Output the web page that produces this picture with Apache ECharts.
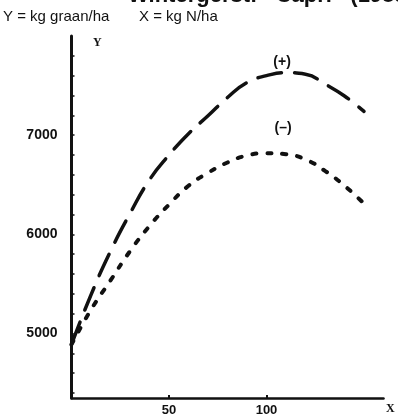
<!DOCTYPE html>
<html>
<head>
<meta charset="utf-8">
<script src="https://cdn.jsdelivr.net/npm/echarts@6/dist/echarts.min.js"></script>
<style>
html,body{margin:0;padding:0;background:#fff;}
#chart{width:398px;height:419px;}
</style>
</head>
<body>
<div id="chart"></div>
<script>
// Data
const xValues = [0, 10, 20, 30, 40, 50, 60, 70, 80, 90, 100, 110, 120, 130, 140, 150];
const yPlus   = [4890, 5390, 5830, 6210, 6550, 6800, 7015, 7195, 7380, 7530, 7600, 7630, 7615, 7515, 7395, 7240];
const yMinus  = [4890, 5240, 5535, 5830, 6085, 6300, 6490, 6620, 6725, 6795, 6818, 6808, 6755, 6640, 6490, 6310];
const yTickLabels = [5000, 6000, 7000];
const yMinorTicks = [4400, 4600, 4800, 5000, 5200, 5400, 5600, 5800, 6000, 6200, 6400, 6600, 6800, 7000, 7200, 7400, 7600, 7800];
const xTickLabels = [50, 100];
const plusLabel = { name: '(+)', x: 108, y: 7735 };
const minusLabel = { name: '(\u2013)', x: 108.5, y: 7075 };
const titleText = 'Wintergerst: \u00abCapri\u00bb (1985)';
const subtitleY = 'Y = kg graan/ha';
const subtitleX = 'X = kg N/ha';

const chart = echarts.init(document.getElementById('chart'));
const pair = (ys) => xValues.map((x, i) => [x, ys[i]]);
const boldFont = 'Liberation Sans';
const plain = (v) => String(v);

chart.setOption({
  animation: false,
  backgroundColor: '#fff',
  grid: { left: 71.5, right: 14.5, top: 36, bottom: 21 },
  xAxis: {
    type: 'value', min: 0, max: 160,
    axisLine: { lineStyle: { color: '#111', width: 2.5 } },
    axisTick: { show: true, inside: true, length: 3, customValues: xTickLabels, lineStyle: { color: '#111', width: 2 } },
    axisLabel: { customValues: xTickLabels, formatter: plain, color: '#111', fontFamily: boldFont, fontWeight: 'bold', fontSize: 13, margin: 6 },
    splitLine: { show: false }
  },
  yAxis: {
    type: 'value', min: 4350, max: 8000,
    axisLine: { show: true, lineStyle: { color: '#111', width: 3 } },
    axisTick: { show: true, inside: true, length: 3, customValues: yMinorTicks, lineStyle: { color: '#111', width: 1.5 } },
    axisLabel: { customValues: yTickLabels, formatter: plain, color: '#111', fontFamily: boldFont, fontWeight: 'bold', fontSize: 14, margin: 14 },
    splitLine: { show: false }
  },
  graphic: [
    { type: 'text', left: 128, top: -15, style: { text: titleText, font: 'bold 22px "Liberation Sans"', fill: '#111' } },
    { type: 'text', left: 3, top: 9, style: { text: subtitleY, font: '15px "Liberation Sans"', fill: '#111' } },
    { type: 'text', left: 139, top: 9, style: { text: subtitleX, font: '15px "Liberation Sans"', fill: '#111' } },
    { type: 'text', left: 93, top: 37, style: { text: 'Y', font: 'bold 12px "Liberation Serif"', fill: '#111' } },
    { type: 'text', left: 386, top: 403, style: { text: 'X', font: 'bold 12px "Liberation Serif"', fill: '#111' } }
  ],
  series: [
    {
      type: 'line', name: '(+)', data: pair(yPlus), smooth: true, symbol: 'none',
      lineStyle: { color: '#111', width: 3.5, type: [24, 13], cap: 'round' },
      markPoint: {
        symbol: 'circle', symbolSize: 0,
        label: { show: true, position: 'inside', formatter: '{b}', color: '#111', fontFamily: boldFont, fontWeight: 'bold', fontSize: 14 },
        data: [{ name: plusLabel.name, coord: [plusLabel.x, plusLabel.y] }]
      }
    },
    {
      type: 'line', name: '(-)', data: pair(yMinus), smooth: true, symbol: 'none',
      lineStyle: { color: '#111', width: 4, type: [4, 11], cap: 'round' },
      markPoint: {
        symbol: 'circle', symbolSize: 0,
        label: { show: true, position: 'inside', formatter: '{b}', color: '#111', fontFamily: boldFont, fontWeight: 'bold', fontSize: 14 },
        data: [{ name: minusLabel.name, coord: [minusLabel.x, minusLabel.y] }]
      }
    }
  ]
});
</script>
</body>
</html>
